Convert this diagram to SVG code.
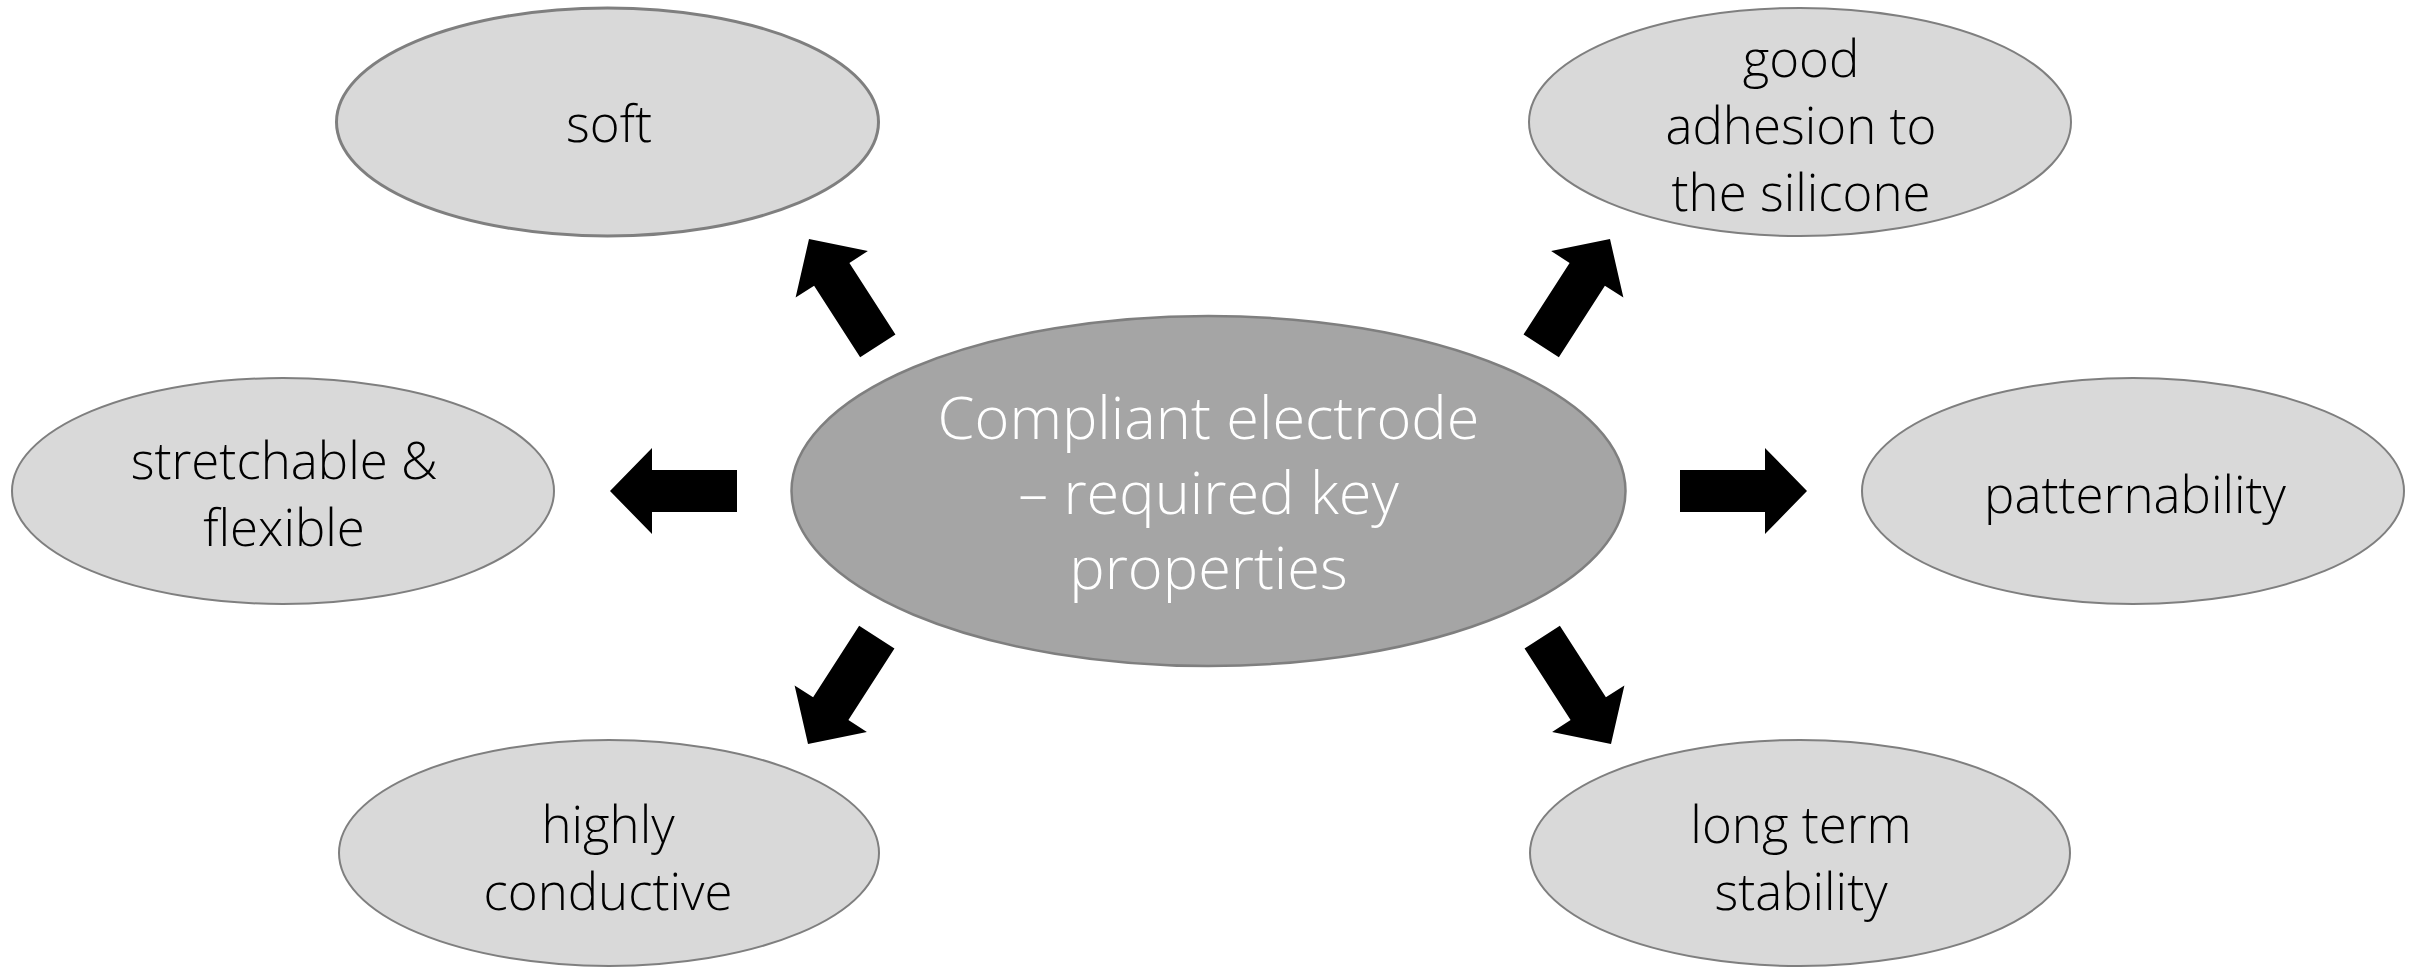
<svg xmlns="http://www.w3.org/2000/svg" xmlns:xlink="http://www.w3.org/1999/xlink" width="2417" height="968" viewBox="0 0 2417 968">
  <style>
    .hub { fill: #a5a5a5; stroke: #7f7f7f; stroke-width: 2.5; }
    .leaf { fill: #d9d9d9; stroke: #7f7f7f; stroke-width: 2; }
    .hub-text { font-family: "Open Sans", "Liberation Sans", sans-serif; font-weight: 300; font-size: 59.5px; fill: #ffffff; text-anchor: middle; }
    .leaf-text { font-family: "Open Sans", "Liberation Sans", sans-serif; font-weight: 300; font-size: 51px; fill: #000000; text-anchor: middle; }
    .block-arrow { fill: #000000; }
  </style>
  <defs>
    <!-- block arrow pointing along +x, tip at the origin -->
    <path id="block-arrow" d="M0,0 L-42,-43 L-42,-21 L-127,-21 L-127,21 L-42,21 L-42,43 Z"/>
  </defs>
  <rect width="2417" height="968" fill="#ffffff"/>

  <g id="connectors" class="block-arrow">
    <use xlink:href="#block-arrow" transform="translate(809,239) rotate(-122.8)"/>
    <use xlink:href="#block-arrow" transform="translate(1610,239) rotate(-57.2)"/>
    <use xlink:href="#block-arrow" transform="translate(610,491) rotate(180)"/>
    <use xlink:href="#block-arrow" transform="translate(1807,491)"/>
    <use xlink:href="#block-arrow" transform="translate(808,744) rotate(122.8)"/>
    <use xlink:href="#block-arrow" transform="translate(1611,744) rotate(57.2)"/>
  </g>

  <g id="node-center">
    <ellipse class="hub" cx="1208.5" cy="491" rx="417" ry="175"/>
    <text class="hub-text" x="1208.5" y="439">Compliant electrode</text>
    <text class="hub-text" x="1208.5" y="514">– required key</text>
    <text class="hub-text" x="1208.5" y="589">properties</text>
  </g>

  <g id="node-soft">
    <ellipse class="leaf" cx="607.5" cy="122" rx="271" ry="114" style="stroke-width:3"/>
    <text class="leaf-text" x="609" y="142">soft</text>
  </g>

  <g id="node-adhesion">
    <ellipse class="leaf" cx="1800" cy="122" rx="271" ry="114"/>
    <text class="leaf-text" x="1801" y="77">good</text>
    <text class="leaf-text" x="1801" y="144">adhesion to</text>
    <text class="leaf-text" x="1801" y="211">the silicone</text>
  </g>

  <g id="node-stretchable">
    <ellipse class="leaf" cx="283" cy="491" rx="271" ry="113"/>
    <text class="leaf-text" x="284" y="479">stretchable &amp;</text>
    <text class="leaf-text" x="284" y="546">flexible</text>
  </g>

  <g id="node-patternability">
    <ellipse class="leaf" cx="2133" cy="491" rx="271" ry="113"/>
    <text class="leaf-text" x="2135" y="513">patternability</text>
  </g>

  <g id="node-conductive">
    <ellipse class="leaf" cx="609" cy="853" rx="270" ry="113"/>
    <text class="leaf-text" x="608" y="843">highly</text>
    <text class="leaf-text" x="608" y="910">conductive</text>
  </g>

  <g id="node-stability">
    <ellipse class="leaf" cx="1800" cy="853" rx="270" ry="113"/>
    <text class="leaf-text" x="1801" y="843">long term</text>
    <text class="leaf-text" x="1801" y="910">stability</text>
  </g>
</svg>
